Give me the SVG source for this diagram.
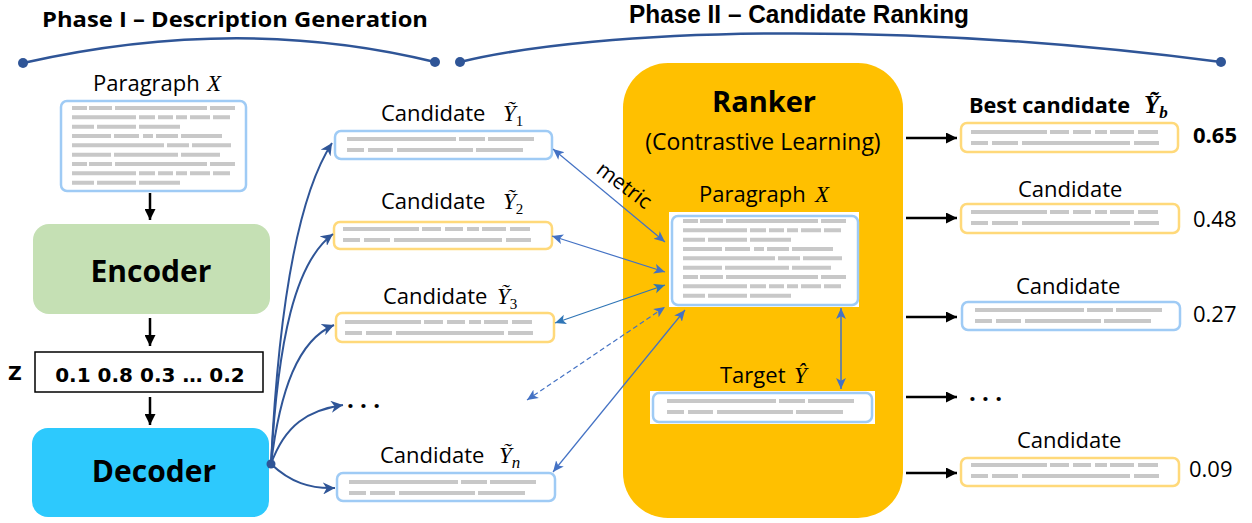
<svg xmlns="http://www.w3.org/2000/svg" xmlns:xlink="http://www.w3.org/1999/xlink" width="1252" height="523" viewBox="0 0 1252 523">
<style>
.t{font-family:"Open Sans","Liberation Sans",sans-serif;font-size:22px;fill:#000}
.b{font-weight:bold}
.m{font-family:"Liberation Serif","DejaVu Serif",serif;font-style:italic;font-size:23px}
.sub{font-family:"Liberation Serif","DejaVu Serif",serif;font-size:15px}
.rows{fill:none;stroke:#c8c8c8;stroke-width:4}
.cb{fill:#fff;stroke:#9fcbf5;stroke-width:2.5}
.cy{fill:#fff;stroke:#ffd97a;stroke-width:2.5}
.blk{stroke:#000;stroke-width:2.5;fill:none}
.cur{stroke:#2f5597;stroke-width:2;fill:none}
.thin{stroke:#4472c4;stroke-width:1.2;fill:none}
.brace{stroke:#2f5597;stroke-width:2.5;fill:none}
</style>
<defs>
<marker id="ab" viewBox="0 0 10 10" refX="10" refY="5" markerWidth="11" markerHeight="11" markerUnits="userSpaceOnUse" orient="auto"><path d="M0,0L10,5L0,10z" fill="#000"/></marker>
<marker id="ac" viewBox="0 0 10 10" refX="10" refY="5" markerWidth="12" markerHeight="12" markerUnits="userSpaceOnUse" orient="auto"><path d="M0,0L10,5L0,10L3,5z" fill="#2f5597"/></marker>
<marker id="at" viewBox="0 0 10 10" refX="10" refY="5" markerWidth="11" markerHeight="11" markerUnits="userSpaceOnUse" orient="auto-start-reverse"><path d="M0,0.5L10,5L0,9.5L2.5,5z" fill="#4472c4"/></marker>
<marker id="at2" viewBox="0 0 10 10" refX="10" refY="5" markerWidth="11" markerHeight="11" markerUnits="userSpaceOnUse" orient="auto-start-reverse"><path d="M0,0.5L10,5L0,9.5L2.5,5z" fill="#2e75b6"/></marker>
<path id="rowsA" class="rows" d="M0,0h109m3,0h26m3,0h46M0,11h17m4,0h25m4,0h76m3,0h47"/>
<path id="rowsB" class="rows" d="M0,0h76m3,0h19m4,0h18m4,0h12m3,0h24m4,0h20M0,11h17m4,0h26m4,0h108m4,0h25"/>
<path id="rowsP" class="rows" d="M0,0h15m2,0h23m3,0h92m3,0h25M0,9.33h64m3,0h16m3,0h15m3,0h11m3,0h20m3,0h17M0,18.67h22m3,0h39m3,0h41M0,28h39m3,0h25m4,0h10m3,0h22m3,0h41M0,37.33h92m3,0h22m3,0h39M0,46.67h39m3,0h64m3,0h39M0,56h15m2,0h23m3,0h92m3,0h25M0,65.33h64m3,0h16m3,0h15m3,0h11m3,0h20m3,0h17M0,74.67h22m3,0h39m3,0h41"/>
</defs>
<rect width="1252" height="523" fill="#fff"/>

<g id="phase1">
<text class="t b" x="42" y="27" style="font-size:21px" textLength="386" lengthAdjust="spacingAndGlyphs">Phase I – Description Generation</text>
<path class="brace" d="M23,63 Q240,14 435,62"/>
<circle cx="23" cy="63" r="5" fill="#2f5597"/>
<circle cx="435" cy="62" r="5" fill="#2f5597"/>
</g>
<g id="phase2">
<text x="629" y="23" font-family="Liberation Sans,Arial,sans-serif" font-weight="bold" font-size="25" textLength="340" lengthAdjust="spacingAndGlyphs">Phase II – Candidate Ranking</text>
<path class="brace" d="M460,62 C600,28 900,20 1221,62"/>
<circle cx="460" cy="62" r="5" fill="#2f5597"/>
<circle cx="1221" cy="62" r="5" fill="#2f5597"/>
</g>

<g id="paragraph">
<text class="t" x="93" y="91">Paragraph <tspan class="m" x="207">X</tspan></text>
<rect class="cb" x="61" y="101" width="185" height="90" rx="6"/>
<use xlink:href="#rowsP" x="72" y="108"/>
</g>
<g id="encoder">
<rect x="33" y="224" width="237" height="90" rx="16" fill="#c5e0b4"/>
<text class="t b" x="151" y="282" style="font-size:30px" text-anchor="middle">Encoder</text>
</g>
<g id="z">
<text x="8" y="380" font-family="DejaVu Sans,sans-serif" font-weight="bold" font-size="19">Z</text>
<rect x="35" y="352" width="228" height="40" fill="#fff" stroke="#000" stroke-width="1.5"/>
<text x="150" y="382" font-family="DejaVu Sans,sans-serif" font-weight="bold" font-size="20" text-anchor="middle">0.1 0.8 0.3 … 0.2</text>
</g>
<g id="decoder">
<rect x="32" y="428" width="237" height="89" rx="16" fill="#2dc9fd"/>
<text class="t b" x="154" y="482" style="font-size:30px" text-anchor="middle">Decoder</text>
</g>

<g id="cand1">
<text class="t" x="381" y="121">Candidate<tspan class="m" x="503">Ỹ</tspan><tspan class="sub" dy="5">1</tspan></text>
<rect class="cb" x="335" y="131" width="217" height="28" rx="6"/>
<use xlink:href="#rowsA" x="347" y="139"/>
</g>
<g id="cand2">
<text class="t" x="381" y="209">Candidate<tspan class="m" x="503">Ỹ</tspan><tspan class="sub" dy="5">2</tspan></text>
<rect class="cy" x="334" y="222" width="218" height="27" rx="6"/>
<use xlink:href="#rowsB" x="343" y="229"/>
</g>
<g id="cand3">
<text class="t" x="383" y="304">Candidate<tspan class="m" x="497">Ỹ</tspan><tspan class="sub" dy="5">3</tspan></text>
<rect class="cy" x="336" y="313" width="218" height="29" rx="6"/>
<use xlink:href="#rowsB" x="345" y="322"/>
</g>
<g id="dots1">
<text class="t b" x="347" y="408" style="font-size:24px">. . .</text>
</g>
<g id="candn">
<text class="t" x="380" y="463">Candidate<tspan class="m" x="499">Ỹ</tspan><tspan class="sub" dy="5" style="font-style:italic;font-size:17px">n</tspan></text>
<rect class="cb" x="337" y="473" width="218" height="28" rx="6"/>
<use xlink:href="#rowsA" x="349" y="482"/>
</g>

<g id="ranker">
<rect x="623" y="63" width="280" height="455" rx="45" fill="#ffc000"/>
<text class="t b" x="764" y="112" style="font-size:29px" text-anchor="middle">Ranker</text>
<text class="t" x="763" y="150" style="font-size:23px" text-anchor="middle">(Contrastive Learning)</text>
</g>
<g id="rparagraph">
<text class="t" x="699" y="202">Paragraph <tspan class="m" x="815">X</tspan></text>
<rect x="669" y="212" width="190" height="95" fill="#fff"/>
<rect class="cb" x="672" y="216" width="186" height="89" rx="6"/>
<use xlink:href="#rowsP" x="683" y="221"/>
</g>
<g id="target">
<text class="t" x="720" y="383">Target<tspan class="m" x="794">Ŷ</tspan></text>
<rect x="650" y="391" width="225" height="33" fill="#fff"/>
<rect class="cb" x="653" y="393" width="219" height="29" rx="6"/>
<use xlink:href="#rowsA" x="667" y="401"/>
</g>

<g id="best">
<text class="t b" x="969" y="113" style="font-size:21px" textLength="161" lengthAdjust="spacingAndGlyphs">Best candidate</text>
<text class="m" x="1144" y="113" style="font-weight:bold;font-size:25px">Ỹ<tspan dy="5" style="font-style:italic;font-weight:bold;font-size:17px">b</tspan></text>
<rect class="cy" x="961" y="123" width="217" height="29" rx="6"/>
<use xlink:href="#rowsB" x="971" y="132"/>
<text class="t b" x="1193" y="143">0.65</text>
</g>
<g id="rc2">
<text class="t" x="1018" y="197">Candidate</text>
<rect class="cy" x="961" y="204" width="218" height="29" rx="6"/>
<use xlink:href="#rowsB" x="971" y="212"/>
<text class="t" x="1193" y="227">0.48</text>
</g>
<g id="rc3">
<text class="t" x="1016" y="294">Candidate</text>
<rect class="cb" x="962" y="302" width="218" height="28" rx="6"/>
<use xlink:href="#rowsA" x="975" y="310"/>
<text class="t" x="1193" y="322">0.27</text>
</g>
<g id="dots2">
<text class="t b" x="969" y="401" style="font-size:24px">. . .</text>
</g>
<g id="rc5">
<text class="t" x="1017" y="448">Candidate</text>
<rect class="cy" x="961" y="458" width="218" height="28" rx="6"/>
<use xlink:href="#rowsB" x="971" y="465"/>
<text class="t" x="1189" y="477">0.09</text>
</g>

<g id="connectors">
<path class="blk" d="M150,193V220" marker-end="url(#ab)"/>
<path class="blk" d="M150,318V346" marker-end="url(#ab)"/>
<path class="blk" d="M150,397V425" marker-end="url(#ab)"/>
<path class="cur" d="M271,464C278,320 295,200 332,143" marker-end="url(#ac)"/>
<path class="cur" d="M271,464C278,340 295,262 333,234" marker-end="url(#ac)"/>
<path class="cur" d="M271,464C280,390 298,340 334,325" marker-end="url(#ac)"/>
<path class="cur" d="M271,464C285,425 308,410 343,405" marker-end="url(#ac)"/>
<path class="cur" d="M271,464C290,482 310,489 335,488" marker-end="url(#ac)"/>
<circle cx="271" cy="464" r="4.5" fill="#2f5597"/>
<path class="thin" d="M553,149L665,242" marker-start="url(#at)" marker-end="url(#at)"/>
<path class="thin" d="M552,236L665,272" marker-start="url(#at)" marker-end="url(#at)"/>
<path class="thin" d="M555,323L665,285" style="stroke:#2e75b6" marker-start="url(#at2)" marker-end="url(#at2)"/>
<path class="thin" d="M527,400L665,307" stroke-dasharray="5,3" marker-start="url(#at)" marker-end="url(#at)"/>
<path class="thin" d="M553,472L685,310" marker-start="url(#at)" marker-end="url(#at)"/>
<path class="thin" d="M841,308V389" style="stroke-width:1.5" marker-start="url(#at)" marker-end="url(#at)"/>
<text class="t" style="font-size:21px" text-anchor="middle" transform="translate(620,191) rotate(37)">metric</text>
<path class="blk" d="M906,138H957" marker-end="url(#ab)"/>
<path class="blk" d="M906,218H957" marker-end="url(#ab)"/>
<path class="blk" d="M906,317H957" marker-end="url(#ab)"/>
<path class="blk" d="M906,397H957" marker-end="url(#ab)"/>
<path class="blk" d="M906,473H957" marker-end="url(#ab)"/>
</g>
</svg>
